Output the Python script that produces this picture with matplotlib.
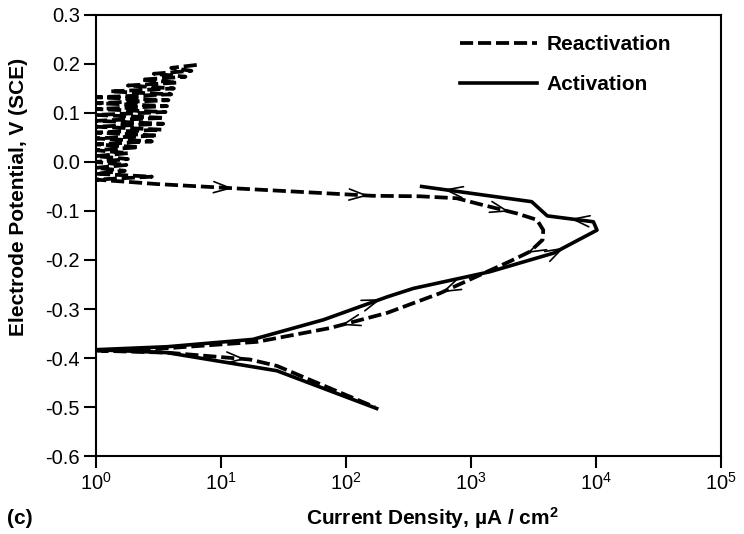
import numpy as np
import matplotlib
matplotlib.use('Agg')
import matplotlib.pyplot as plt
from matplotlib.ticker import NullLocator, FixedLocator, FormatStrFormatter

plt.rcParams['font.family'] = ['Liberation Sans', 'DejaVu Sans']
plt.rcParams['mathtext.fontset'] = 'custom'
plt.rcParams['mathtext.rm'] = 'Liberation Sans'
plt.rcParams['mathtext.it'] = 'Liberation Sans:italic'
plt.rcParams['mathtext.bf'] = 'Liberation Sans:bold'

# activation scan (solid), current in uA/cm2, potential in V (SCE)
act_I = [176, 28, 3.7, 1.0, 3.7, 18, 66, 215, 346, 1415, 4570, 8900,
         10200, 9540, 4080, 3060, 403]
act_V = [-0.503, -0.426, -0.389, -0.383, -0.377, -0.362, -0.322, -0.275,
         -0.258, -0.224, -0.186, -0.147, -0.139, -0.122, -0.110, -0.081, -0.050]

# reactivation scan (dashed): noisy start near 1-6 uA/cm2
noise_I = [6.4, 4.0, 5.8, 2.9, 5.2, 2.3, 4.5, 1.8, 4.2, 1.3, 4.0, 1.0,
           3.8, 1.0, 3.7, 1.0, 3.6, 1.0, 3.5, 1.0, 3.45, 1.0, 3.35, 1.0,
           3.1, 1.0, 2.8, 1.0, 2.2, 1.0, 1.8, 1.0, 1.8, 1.0, 1.75, 1.0,
           1.7, 1.0, 2.8, 1.0, 1.9]
noise_V = [0.198, 0.192, 0.186, 0.180, 0.174, 0.168, 0.162, 0.156, 0.150,
           0.144, 0.138, 0.132, 0.126, 0.120, 0.114, 0.108, 0.102, 0.096,
           0.090, 0.084, 0.078, 0.072, 0.066, 0.060, 0.054, 0.048, 0.042,
           0.036, 0.030, 0.024, 0.018, 0.012, 0.006, 0.000, -0.006, -0.012,
           -0.018, -0.024, -0.030, -0.036, -0.041]
loop_I = [3.06, 13.4, 163, 390, 770, 1170, 2330, 3370, 3790, 3740, 2960,
          2040, 1170, 563, 213, 74, 19.4, 3.7, 1.0, 3.7, 17, 28, 108, 170]
loop_V = [-0.045, -0.054, -0.069, -0.070, -0.074, -0.086, -0.105, -0.118,
          -0.139, -0.159, -0.183, -0.203, -0.231, -0.268, -0.308, -0.339,
          -0.367, -0.380, -0.385, -0.389, -0.403, -0.416, -0.479, -0.500]
react_I = noise_I + loop_I
react_V = noise_V + loop_V

# arrow heads: (segment index, fraction along segment)
act_arrows = [(6, 0.9), (10, 0.3), (13, 0.5), (15, 0.8)]
n0 = len(noise_I)
react_arrows = [(n0, 0.95), (n0 + 1, 0.97), (n0 + 5, 0.8), (n0 + 10, 0.15),
                (n0 + 12, 0.95), (n0 + 14, 0.8), (n0 + 19, 0.95)]

yticks = [-0.6, -0.5, -0.4, -0.3, -0.2, -0.1, 0.0, 0.1, 0.2, 0.3]
xticks = [1e0, 1e1, 1e2, 1e3, 1e4, 1e5]

fig = plt.figure(figsize=(7.44, 5.34), dpi=100)
ax = fig.add_axes([0.129, 0.146, 0.840, 0.826])

ax.plot(react_I, react_V, color='k', lw=2.7, ls=(0, (3.5, 1.3)),
        label='Reactivation')
ax.plot(act_I, act_V, color='k', lw=2.6, label='Activation')

ax.set_xscale('log')
ax.set_xlim(1, 1e5)
ax.set_ylim(-0.6, 0.3)
ax.xaxis.set_major_locator(FixedLocator(xticks))
ax.xaxis.set_minor_locator(NullLocator())
ax.yaxis.set_major_locator(FixedLocator(yticks))
ax.yaxis.set_major_formatter(FormatStrFormatter('%.1f'))
ax.tick_params(direction='out', length=8.5, width=1.5, labelsize=14.5, pad=3)
for s in ax.spines.values():
    s.set_linewidth(1.5)


def add_arrows(xs, ys, marks):
    lx = np.log10(xs)
    for i, f in marks:
        tx = 10 ** (lx[i] + f * (lx[i + 1] - lx[i]))
        ty = ys[i] + f * (ys[i + 1] - ys[i])
        p0 = ax.transData.transform((xs[i], ys[i]))
        p1 = ax.transData.transform((xs[i + 1], ys[i + 1]))
        d = (p1 - p0) / np.hypot(*(p1 - p0))
        ax.annotate('', xy=(tx, ty), xytext=(-d[0] * 2, -d[1] * 2),
                    textcoords='offset points',
                    arrowprops=dict(arrowstyle='->,head_length=0.6,head_width=0.2',
                                    lw=1.2, color='k', shrinkA=0, shrinkB=0,
                                    mutation_scale=20))


add_arrows(act_I, act_V, act_arrows)
add_arrows(react_I, react_V, react_arrows)

ax.legend(loc='upper left', bbox_to_anchor=(0.582, 0.954), frameon=False,
          prop={'weight': 'bold', 'size': 15}, handlelength=3.7,
          handletextpad=0.48, labelspacing=1.0, borderpad=0, borderaxespad=0)

ax.set_xlabel('Current Density, µA / cm$^\\mathbf{2}$', fontsize=15,
              fontweight='bold')
ax.set_ylabel('Electrode Potential, V (SCE)', fontsize=15, fontweight='bold')
ax.xaxis.set_label_coords(0.538, -0.112)
ax.yaxis.set_label_coords(-0.108, 0.587)
fig.text(0.010, 0.018, '(c)', fontsize=15, fontweight='bold')

fig.savefig('out.png', dpi=100)
